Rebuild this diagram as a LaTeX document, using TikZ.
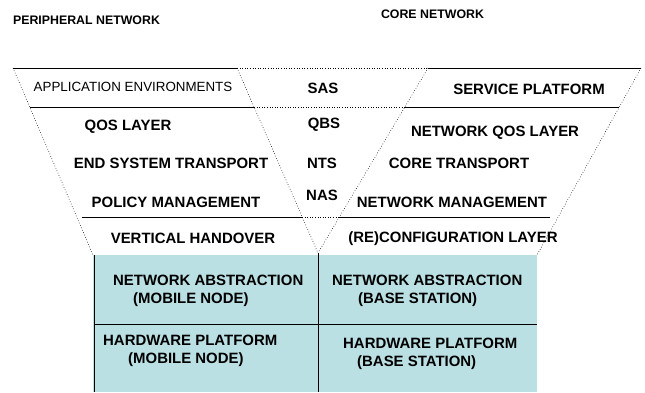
\documentclass[tikz,border=0pt]{standalone}
\usepackage{fontspec}
\setmainfont{Liberation Sans}
\usetikzlibrary{positioning}
\definecolor{boxcyan}{RGB}{186,224,228}
\tikzset{
layer/.style={font=\bfseries\fontsize{15}{18}\selectfont, inner sep=0pt}, % labels of the layers
thinlayer/.style={font=\fontsize{13.4}{16}\selectfont, inner sep=0pt}, % the one label in normal weight
head/.style={font=\bfseries\fontsize{12.4}{14}\selectfont, inner sep=0pt}, % titles above the funnel
edge/.style={line width=0.6pt, dotted}, % slanted sides of the funnel
rule/.style={line width=0.8pt}, % solid separators
gap/.style={line width=0.6pt, dotted}, % separators of the middle column
}

\begin{document}
\begin{tikzpicture}[x=1bp, y=-1bp]
            \useasboundingbox (0,0) rectangle (645,392);
            % corners of the funnel
            \coordinate (lt) at (13,68);
            \coordinate (lb) at (93,255);
            \coordinate (mlt) at (237,68);
            \coordinate (mrt) at (428,68);
            \coordinate (apex) at (318,253);
            \coordinate (rt) at (641,68);
            \coordinate (rb) at (537,255);
            % lower box
            \fill[boxcyan] (93,255) rectangle (537,392);
            \draw[rule] (94,255) -- (94,392);
            \draw[rule] (apex) -- (318,392);
            \draw[rule] (94,324) -- (537,324);
            % funnel
            \draw[edge] (lt) -- (lb);
            \draw[edge] (mlt) -- (apex);
            \draw[edge] (mrt) -- (apex);
            \draw[edge] (rt) -- (rb);
            \draw[rule] (lt) -- (mlt);
            \draw[gap] (mlt) -- (mrt);
            \draw[rule] (mrt) -- (rt);
            \draw[rule] (30,107) -- (254,107);
            \draw[gap] (254,107) -- (405,107);
            \draw[rule] (405,107) -- (619,107);
            \draw[rule] (82,217) -- (302,217);
            \draw[gap] (302,217) -- (339,217);
            \draw[rule] (339,217) -- (550,217);
            % titles
            \node[head] (peri) at (86.5,20) {PERIPHERAL NETWORK};
            \node[head] (core) at (432.5,14) {CORE NETWORK};
            % layers
            \node[thinlayer] (ae) at (133,87) {APPLICATION ENVIRONMENTS};
            \node[layer] (sas) at (323,88) {SAS};
            \node[layer] (sp) at (529,89) {SERVICE PLATFORM};
            \node[layer] (qos) at (128,127) {QOS LAYER};
            \node[layer] (qbs) at (324,125) {QBS};
            \node[layer] (nqos) at (495,133) {NETWORK QOS LAYER};
            \node[layer] (est) at (171,163) {END SYSTEM TRANSPORT};
            \node[layer] (nts) at (322,163) {NTS};
            \node[layer] (ct) at (459,163) {CORE TRANSPORT};
            \node[layer] (pm) at (176,202) {POLICY MANAGEMENT};
            \node[layer] (nas) at (322,195) {NAS};
            \node[layer] (nm) at (452,202) {NETWORK MANAGEMENT};
            \node[layer] (vh) at (193,238) {VERTICAL HANDOVER};
            \node[layer] (rcl) at (453,239) {(RE)CONFIGURATION LAYER};
            % box labels
            \node[layer, align=left, anchor=west] (naMN) at (113,291) {NETWORK ABSTRACTION\\\hspace*{20bp}(MOBILE NODE)};
            \node[layer, align=left, anchor=west] (naBS) at (332,291) {NETWORK ABSTRACTION\\\hspace*{26bp}(BASE STATION)};
            \node[layer, align=left, anchor=west] (hwMN) at (103,351) {HARDWARE PLATFORM\\\hspace*{25bp}(MOBILE NODE)};
            \node[layer, align=left, anchor=west] (hwBS) at (343,354) {HARDWARE PLATFORM\\\hspace*{14bp}(BASE STATION)};
        \end{tikzpicture}
\end{document}
